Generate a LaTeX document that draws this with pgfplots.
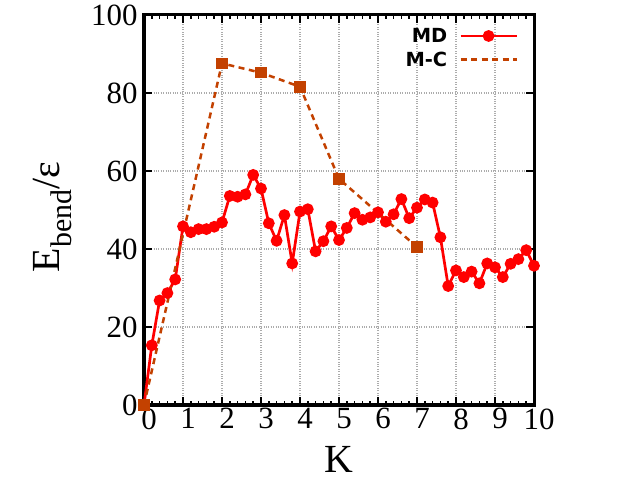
\documentclass[border=0pt]{standalone}
\usepackage{fontspec}
\setmainfont{Liberation Serif}
\newfontfamily\legfont{DejaVu Sans}
\usepackage{pgfplots}
\pgfplotsset{compat=1.18}
\definecolor{mdred}{RGB}{255,0,0}
\definecolor{mcorange}{RGB}{195,65,0}
\pgfplotsset{
  mdleg/.style={legend image code/.code={\draw[##1, mark repeat=2, mark phase=2] plot coordinates {(0bp,0bp) (28bp,0bp) (56bp,0bp)};}},
  mcleg/.style={legend image code/.code={\draw[##1, mark=none] (0bp,0bp) -- (56bp,0bp);}},
}

\begin{document}
\begin{tikzpicture}
\useasboundingbox (0bp,0bp) rectangle (640bp,480bp);
\begin{axis}[
  at={(144bp,75bp)}, anchor=south west,
  scale only axis, width=390bp, height=390bp,
  xmin=0, xmax=10, ymin=0, ymax=100,
  xtick={0,1,...,10}, ytick={0,20,...,100},
  minor x tick num=4,
  grid=major,
  major grid style={dotted, gray!65, line width=1.2bp},
  axis line style={line width=3bp},
  major tick length=8bp, minor tick length=4bp,
  tick style={black, line width=1.5bp},
  /pgf/number format/assume math mode=true,
  tick label style={font=\fontsize{31}{36}\selectfont},
  xticklabel style={yshift=0bp, xshift=5bp},
  yticklabel style={xshift=-3bp},
  xlabel={K}, ylabel={E\raisebox{-0.3em}{\fontsize{30}{30}\selectfont bend}/ε},
  label style={font=\fontsize{40}{48}\selectfont},
  xlabel style={at={(axis description cs:0.5,-0.14)}, anchor=center},
  ylabel style={at={(axis description cs:-0.235,0.482)}, anchor=center},
  clip=false,
  legend plot pos=right,
  legend cell align=right,
  legend style={draw=none, fill=none, at={(0.967,0.977)}, anchor=north east,
    font=\legfont\bfseries\fontsize{19.5}{22}\selectfont, row sep=4bp, column sep=10bp},
]
\addplot[mdred, line width=2.7bp, mark=*, mark size=4.5bp, mark options={solid}, mdleg]
coordinates {
(0.0,0) (0.2,15.3) (0.4,26.8) (0.6,28.7) (0.8,32.2) (1.0,45.8)
(1.2,44.3) (1.4,45.1) (1.6,45.1) (1.8,45.7) (2.0,46.8)
(2.2,53.6) (2.4,53.4) (2.6,54.0) (2.8,59.0) (3.0,55.5)
(3.2,46.6) (3.4,42.1) (3.6,48.7) (3.8,36.3) (4.0,49.6)
(4.2,50.2) (4.4,39.4) (4.6,42.0) (4.8,45.8) (5.0,42.3)
(5.2,45.4) (5.4,49.2) (5.6,47.5) (5.8,48.1) (6.0,49.4)
(6.2,47.0) (6.4,48.9) (6.6,52.8) (6.8,47.9) (7.0,50.6)
(7.2,52.7) (7.4,51.9) (7.6,43.0) (7.8,30.5) (8.0,34.5)
(8.2,32.8) (8.4,34.2) (8.6,31.2) (8.8,36.3) (9.0,35.3)
(9.2,32.8) (9.4,36.2) (9.6,37.4) (9.8,39.7) (10.0,35.7)
};
\addlegendentry{MD}
\addplot[mcorange, line width=2.5bp, dash pattern=on 6bp off 4.5bp, mark=square*, mark size=4.5bp, mark options={solid}, mcleg]
coordinates {
(0,0) (2,87.6) (3,85.2) (4,81.6) (5,58.0) (7,40.5)
};
\addlegendentry{M-C}
\end{axis}
\end{tikzpicture}
\end{document}
